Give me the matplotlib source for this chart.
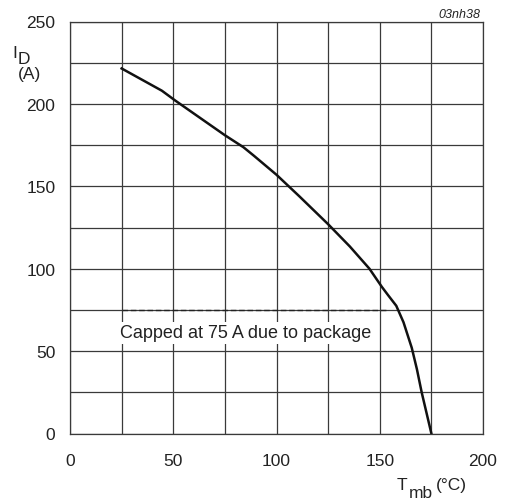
import numpy as np
import matplotlib
matplotlib.use("Agg")
import matplotlib.pyplot as plt

plt.rcParams['font.family'] = ['Liberation Sans', 'DejaVu Sans']

# derating curve
temp_mb = [25, 44.5, 51, 63, 75, 84, 89, 100, 111, 125, 135.5, 145, 151, 154,
           158, 161.5, 165.5, 168, 170.3, 175]
drain_current = [221.5, 208, 202, 191.5, 181, 173.7, 168.6, 157, 144, 127, 113.5,
                 100, 89, 84, 77.5, 67.5, 52, 39, 25, 0]

cap_x = [25, 154]
cap_y = [75, 75]

x_ticks = [0, 50, 100, 150, 200]
y_ticks = [0, 50, 100, 150, 200, 250]

W, H = 507, 502
fig = plt.figure(figsize=(W / 100, H / 100), dpi=100)
ax = fig.add_axes([70 / W, (H - 434.5) / H, 413 / W, 412 / H])

grid_x = np.arange(0, 201, 25)
grid_y = np.arange(0, 251, 25)
ax.set_xlim(0, 200)
ax.set_ylim(0, 250)
ax.set_xticks(grid_x)
ax.set_yticks(grid_y)
ax.grid(True, color='#3a3a3a', linewidth=0.9)
ax.set_axisbelow(True)
ax.tick_params(length=0, labelsize=12.5, colors='#222222')
ax.tick_params(axis='x', pad=14)
ax.tick_params(axis='y', pad=10.5)
ax.set_xticklabels([str(v) if v in x_ticks else '' for v in grid_x])
ax.set_yticklabels([str(v) if v in y_ticks else '' for v in grid_y])
for s in ax.spines.values():
    s.set_color('#3a3a3a')
    s.set_linewidth(0.9)

ax.plot(cap_x, cap_y, color='#222222', linewidth=1.0, linestyle=(0, (4, 2)))
ax.plot(temp_mb, drain_current, color='#111111', linewidth=1.8)

ax.text(24, 61, 'Capped at 75 A due to package', fontsize=13, color='#222222',
        ha='left', va='center',
        bbox=dict(facecolor='white', edgecolor='none', pad=1.5))


def px_text(x, y, s, **kw):
    fig.text(x / W, 1 - y / H, s, color='#222222', va='baseline', **kw)


# axis labels with full-size, lowered subscripts
px_text(12.5, 58, 'I', fontsize=12.5)
px_text(17.3, 64, 'D', fontsize=12.5)
px_text(18, 79, '(A)', fontsize=12.5)
px_text(396.5, 490, 'T', fontsize=12.5)
px_text(408.5, 498, 'mb', fontsize=12.5)
px_text(436, 490, '(°C)', fontsize=12.5)
px_text(480, 18, '03nh38', fontsize=9, style='italic', ha='right')

fig.savefig('out.png', dpi=100)
